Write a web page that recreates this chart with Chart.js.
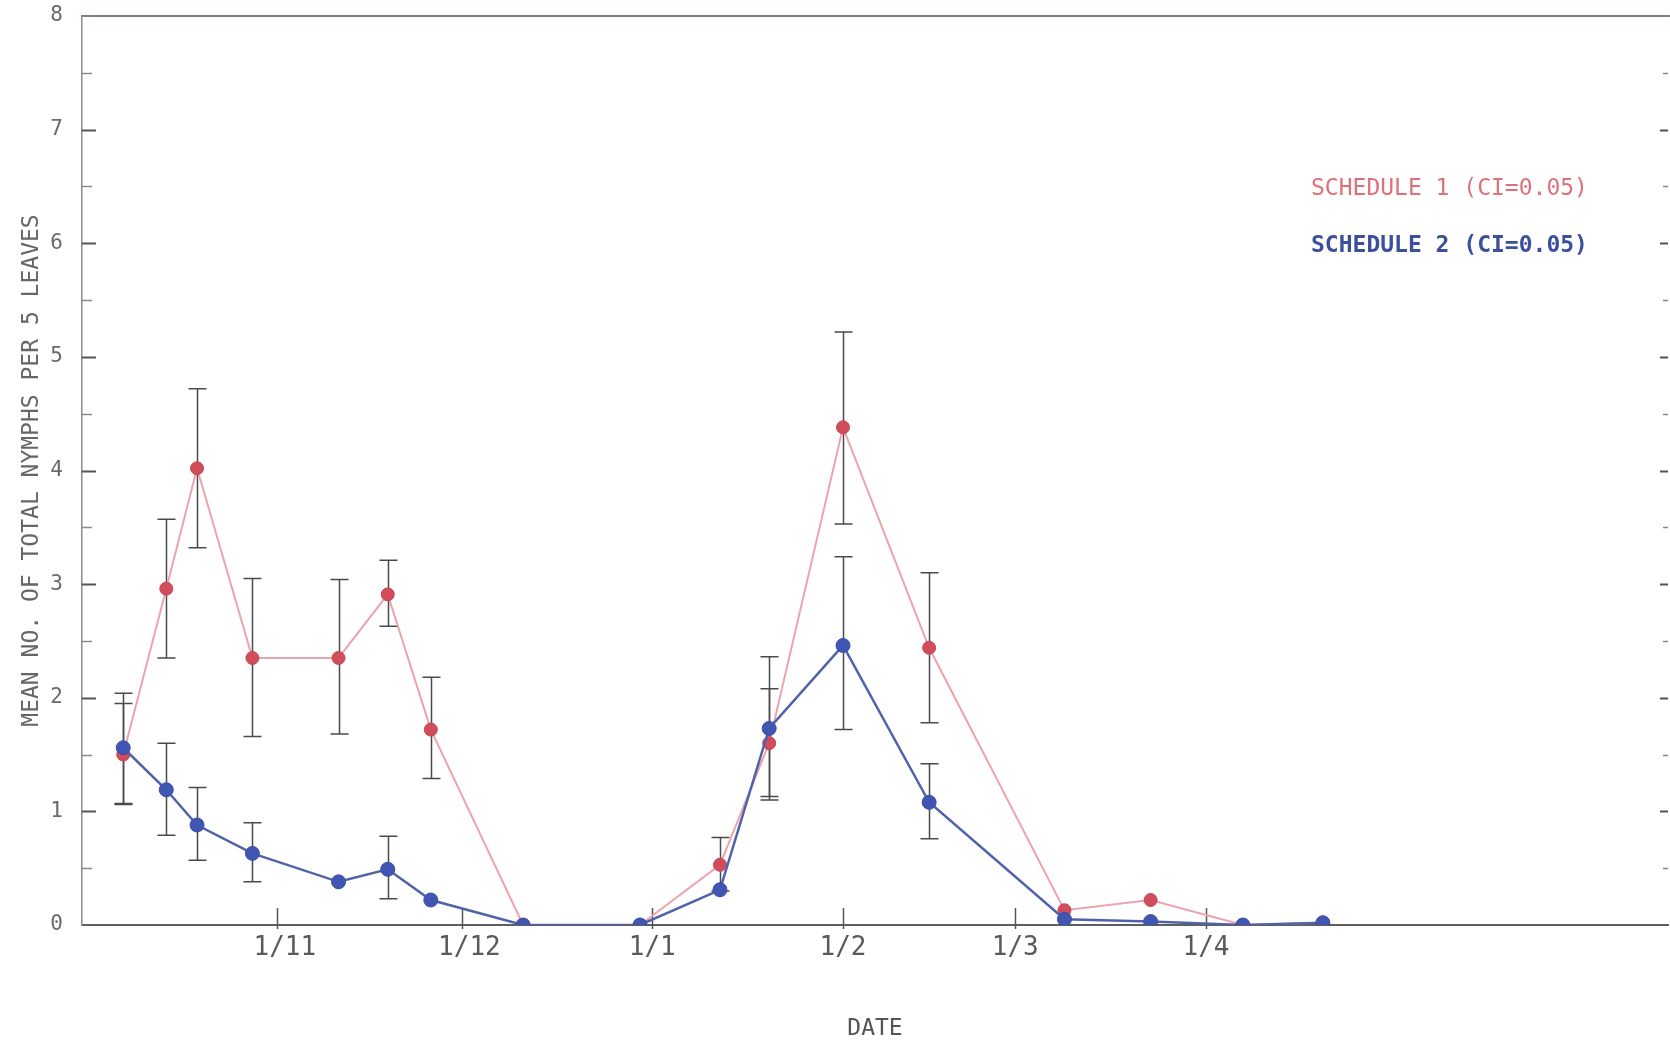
<!DOCTYPE html>
<html>
<head>
<meta charset="utf-8">
<title>Nymph counts by schedule</title>
<script src="https://cdn.jsdelivr.net/npm/chart.js@4/dist/chart.umd.min.js"></script>
<style>
  html, body { margin: 0; padding: 0; background: #fff; }
  canvas { display: block; }
</style>
</head>
<body>
<canvas id="chart" width="1670" height="1047"></canvas>
<script>
// Sampling dates, counted in days from 1 November
const sampleDays = [-25, -18, -13, -4, 10, 18, 25, 40, 59, 72, 80, 92, 106, 128, 142, 157, 170];

// Schedule 1: mean nymphs per 5 leaves and the interval ends
const schedule1Mean = [1.50, 2.96, 4.02, 2.35, 2.35, 2.91, 1.72, 0, 0, 0.53, 1.60, 4.38, 2.44, 0.13, 0.22, 0, 0.02];
const schedule1Low  = [1.06, 2.35, 3.32, 1.66, 1.68, 2.63, 1.29, null, null, 0.30, 1.10, 3.53, 1.78, null, null, null, null];
const schedule1High = [2.04, 3.57, 4.72, 3.05, 3.04, 3.21, 2.18, null, null, 0.77, 2.08, 5.22, 3.10, null, null, null, null];

// Schedule 2
const schedule2Mean = [1.56, 1.19, 0.88, 0.63, 0.38, 0.49, 0.22, 0, 0, 0.31, 1.73, 2.46, 1.08, 0.05, 0.03, 0, 0.02];
const schedule2Low  = [1.07, 0.79, 0.57, 0.38, null, 0.23, null, null, null, null, 1.13, 1.72, 0.76, null, null, null, null];
const schedule2High = [1.95, 1.60, 1.21, 0.90, null, 0.78, null, null, null, null, 2.36, 3.24, 1.42, null, null, null, null];

// First day of each month on the date axis
const monthStarts = [0, 30, 61, 92, 120, 151];
const monthLabels = ['1/11', '1/12', '1/1', '1/2', '1/3', '1/4'];

const seriesNames = ['SCHEDULE 1 (CI=0.05)', 'SCHEDULE 2 (CI=0.05)'];

const FONT = "'DejaVu Sans Mono', 'Liberation Mono', monospace";

const toPoints = (days, vals) => days.map((d, i) => ({ x: d, y: vals[i] }));

// Frame, inward tick marks and the interval bars
const framePlugin = {
  id: 'frame',
  beforeDatasetsDraw(chart) {
    const { ctx, chartArea: a, scales: { x, y } } = chart;
    ctx.save();

    // top line runs out to the edge
    ctx.strokeStyle = '#8a7c7d';
    ctx.lineWidth = 2;
    ctx.beginPath();
    ctx.moveTo(a.left, a.top);
    ctx.lineTo(chart.width, a.top);
    ctx.stroke();

    // y ticks every half unit, on both sides
    for (let v = 0.5; v < 8; v += 0.5) {
      const py = Math.round(y.getPixelForValue(v)) + 0.5;
      const major = v % 1 === 0;
      ctx.strokeStyle = major ? '#555' : '#8a8a8a';
      ctx.lineWidth = major ? 2 : 1.5;
      ctx.beginPath();
      ctx.moveTo(a.left, py);
      ctx.lineTo(a.left + (major ? 14 : 10), py);
      ctx.moveTo(a.right, py);
      ctx.lineTo(a.right - (major ? 8 : 5), py);
      ctx.stroke();
    }

    // month ticks cross the date axis
    ctx.strokeStyle = '#555';
    ctx.lineWidth = 1.5;
    monthStarts.forEach(d => {
      const px = Math.round(x.getPixelForValue(d)) + 0.5;
      ctx.beginPath();
      ctx.moveTo(px, a.bottom + 4);
      ctx.lineTo(px, a.bottom - 17);
      ctx.stroke();
    });

    // interval bars with caps
    ctx.strokeStyle = '#4a4a4a';
    ctx.lineWidth = 1.5;
    chart.data.datasets.forEach(ds => {
      ds.points.forEach((p, i) => {
        const lo = ds.errLow[i], hi = ds.errHigh[i];
        if (lo === null || hi === null) return;
        const px = Math.round(x.getPixelForValue(p.x)) + 0.5;
        const pLo = y.getPixelForValue(lo), pHi = y.getPixelForValue(hi);
        ctx.beginPath();
        ctx.moveTo(px, pLo);
        ctx.lineTo(px, pHi);
        ctx.moveTo(px - 9, pLo);
        ctx.lineTo(px + 9, pLo);
        ctx.moveTo(px - 9, pHi);
        ctx.lineTo(px + 9, pHi);
        ctx.stroke();
      });
    });
    ctx.restore();
  },
  afterDraw(chart) {
    // series names as coloured text inside the plot
    const { ctx, chartArea: a } = chart;
    ctx.save();
    ctx.textBaseline = 'middle';
    ctx.textAlign = 'left';
    chart.data.datasets.forEach((ds, i) => {
      ctx.font = (i === 1 ? 'bold ' : '') + '23px ' + FONT;
      ctx.fillStyle = ds.textColor;
      ctx.fillText(ds.label, a.right - 357, a.top + 173 + i * 57);
    });
    ctx.restore();
  }
};

const s1 = toPoints(sampleDays, schedule1Mean);
const s2 = toPoints(sampleDays, schedule2Mean);

const chart = new Chart(document.getElementById('chart'), {
  type: 'line',
  data: {
    datasets: [{
      label: seriesNames[0],
      data: s1,
      points: s1,
      errLow: schedule1Low,
      errHigh: schedule1High,
      order: 1,
      borderColor: '#eca4ac',
      borderWidth: 2,
      pointRadius: 6.5,
      pointBackgroundColor: '#d24d5c',
      pointBorderColor: '#c44656',
      pointBorderWidth: 1,
      textColor: '#dd7078',
      tension: 0
    }, {
      label: seriesNames[1],
      data: s2,
      points: s2,
      errLow: schedule2Low,
      errHigh: schedule2High,
      order: 0,
      borderColor: '#5063aa',
      borderWidth: 2.5,
      pointRadius: 7,
      pointBackgroundColor: '#4056b2',
      pointBorderColor: '#3a4ea4',
      pointBorderWidth: 1,
      textColor: '#3b4f9c',
      tension: 0
    }]
  },
  options: {
    responsive: false,
    animation: false,
    layout: { autoPadding: false, padding: { top: 16, right: 2, left: 0, bottom: 0 } },
    plugins: {
      legend: { display: false },
      tooltip: { enabled: false }
    },
    scales: {
      x: {
        type: 'linear',
        min: -31.7,
        max: 226.1,
        afterBuildTicks: scale => { scale.ticks = monthStarts.map(v => ({ value: v })); },
        // fixed box, no extra room for label overhang
        afterFit: scale => {
          scale.height = 122;
          scale.paddingLeft = 0;
          scale.paddingRight = 0;
        },
        grid: { display: false },
        border: { color: '#5e5e5e', width: 2 },
        ticks: {
          padding: 0,
          color: '#5a5a5a',
          font: { family: FONT, size: 26 },
          maxRotation: 0,
          autoSkip: false,
          // keep the slash over the tick mark
          callback: v => {
            const label = monthLabels[monthStarts.indexOf(v)];
            return label.length > 3 ? ' ' + label : label;
          }
        },
        title: {
          display: true,
          text: 'DATE',
          color: '#555',
          font: { family: FONT, size: 23, lineHeight: 1 },
          padding: { top: 0, bottom: 6 }
        }
      },
      y: {
        min: 0,
        max: 8,
        afterFit: scale => {
          scale.width = 82;
          scale.paddingTop = 0;
          scale.paddingBottom = 0;
        },
        grid: { display: false },
        border: { color: '#8c8c8c', width: 1.5 },
        ticks: {
          stepSize: 1,
          padding: 11,
          color: '#6a6a6a',
          font: { family: FONT, size: 21 }
        },
        title: {
          display: true,
          text: 'MEAN NO. OF TOTAL NYMPHS PER 5 LEAVES',
          color: '#666',
          font: { family: FONT, size: 23, lineHeight: 1 },
          padding: { top: 21, bottom: 0 }
        }
      }
    }
  },
  plugins: [framePlugin]
});
</script>
</body>
</html>
